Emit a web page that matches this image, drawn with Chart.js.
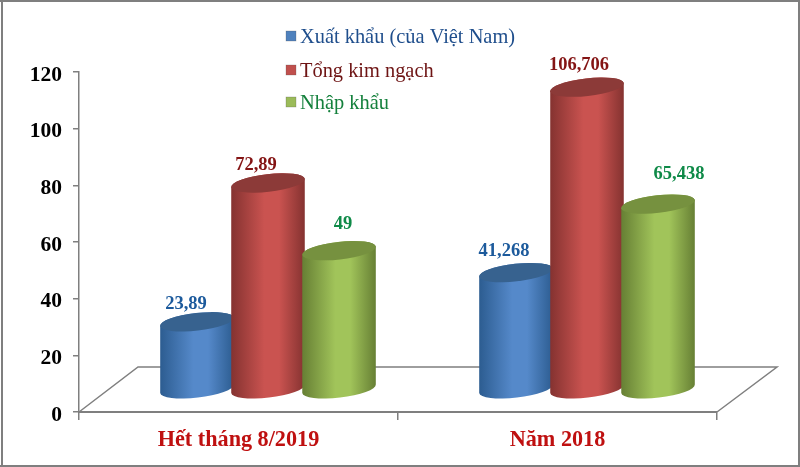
<!DOCTYPE html>
<html>
<head>
<meta charset="utf-8">
<script src="https://cdn.jsdelivr.net/npm/chart.js@4"></script>
<style>
html, body { margin: 0; padding: 0; background: #fff; }
#wrap { width: 800px; height: 467px; }
canvas { filter: blur(0.4px); }
</style>
</head>
<body>
<div id="wrap"><canvas id="myChart" width="800" height="467"></canvas></div>
<script>
var categories = ["Hết tháng 8/2019", "Năm 2018"];
var seriesNames = ["Xuất khẩu (của Việt Nam)", "Tổng kim ngạch", "Nhập khẩu"];
var xuatKhau = [23.89, 41.268];
var tongKimNgach = [72.89, 106.706];
var nhapKhau = [49, 65.438];
var yTicks = [0, 20, 40, 60, 80, 100, 120];
var xuatKhauLabels = ["23,89", "41,268"];
var tongKimNgachLabels = ["72,89", "106,706"];
var nhapKhauLabels = ["49", "65,438"];

// bar colours: edge, middle, top of the cylinder, legend box, text
var looks = [
    { edge: '#2c5c90', mid: '#5589ca', top: '#37628f', box: '#4f81bd', text: '#1f4e8c', value: '#1c5a9c' },
    { edge: '#843230', mid: '#ca5350', top: '#8c3a38', box: '#c0504d', text: '#6e1414', value: '#841414' },
    { edge: '#667f34', mid: '#a1c45a', top: '#76913f', box: '#9bbb59', text: '#14803c', value: '#0f8a48' }
];
var serifFont = '"Liberation Serif", "Times New Roman", serif';
var depthX = 59, depthY = -45;   // how far the floor goes back
var tilt = -6.5 * Math.PI / 180;
var capHeight = 8.8;

// where the value labels sit from the top of each bar
var labelShift = [
    [[-11, -18], [-12, -21]],
    [[-12, -18], [-8, -22]],
    [[4, -26], [21, -30]]
];

function drawCylinder(ctx, bar, look) {
    var cx = bar.x + depthX / 2;
    var topY = bar.y + depthY / 2;
    var botY = bar.base + depthY / 2;
    var rx = bar.width / 2;
    var left = cx - rx;

    var grad = ctx.createLinearGradient(left, 0, left + bar.width, 0);
    grad.addColorStop(0, look.edge);
    grad.addColorStop(0.45, look.mid);
    grad.addColorStop(0.65, look.mid);
    grad.addColorStop(1, look.edge);

    ctx.save();
    ctx.beginPath();
    ctx.ellipse(cx, topY, rx, capHeight, tilt, Math.PI, 0, false);
    ctx.ellipse(cx, botY, rx, capHeight, tilt, 0, Math.PI, false);
    ctx.closePath();
    ctx.fillStyle = grad;
    ctx.fill();

    ctx.beginPath();
    ctx.ellipse(cx, topY, rx, capHeight, tilt, 0, Math.PI * 2);
    ctx.fillStyle = look.top;
    ctx.fill();
    ctx.restore();
}

var cylinderPlugin = {
    id: 'cylinders',
    beforeDatasetsDraw: function (chart) {
        var ctx = chart.ctx, a = chart.chartArea;
        ctx.save();
        ctx.strokeStyle = '#7f7f7f';
        ctx.lineWidth = 1.5;
        ctx.beginPath();
        ctx.moveTo(a.left, a.bottom);
        ctx.lineTo(a.left + depthX, a.bottom + depthY);
        ctx.lineTo(a.right + depthX + 1, a.bottom + depthY);
        ctx.lineTo(a.right, a.bottom);
        ctx.stroke();
        ctx.restore();
    },
    // the plain rectangles are replaced by the cylinders below
    beforeDatasetDraw: function () {
        return false;
    },
    afterDatasetsDraw: function (chart) {
        var ctx = chart.ctx;
        // left to right, each bar overlaps the one before it
        chart.data.labels.forEach(function (label, j) {
            chart.data.datasets.forEach(function (ds, i) {
                drawCylinder(ctx, chart.getDatasetMeta(i).data[j], looks[i]);
            });
        });

        ctx.save();
        ctx.textAlign = 'center';
        ctx.textBaseline = 'middle';
        ctx.font = 'bold 18.5px ' + serifFont;
        chart.data.datasets.forEach(function (ds, i) {
            ctx.fillStyle = looks[i].value;
            chart.getDatasetMeta(i).data.forEach(function (bar, j) {
                var s = labelShift[i][j];
                ctx.fillText(ds.valueLabels[j], bar.x + depthX / 2 + s[0], bar.y + depthY / 2 + s[1]);
            });
        });

        // legend
        ctx.textAlign = 'left';
        ctx.font = '20.4px ' + serifFont;
        var rowY = [36, 70, 102];
        seriesNames.forEach(function (name, i) {
            ctx.fillStyle = looks[i].box;
            ctx.fillRect(286, rowY[i] - 5, 10, 10);
            ctx.strokeStyle = 'rgba(80,80,80,0.5)';
            ctx.lineWidth = 0.5;
            ctx.strokeRect(286, rowY[i] - 5, 10, 10);
            ctx.fillStyle = looks[i].text;
            ctx.fillText(name, 300, rowY[i] + 2);
        });

        // picture frame
        ctx.fillStyle = '#7f7f7f';
        ctx.fillRect(0, 0, chart.width, 2);
        ctx.fillRect(1, 0, 2, chart.height);
        ctx.fillRect(chart.width - 2, 0, 2, chart.height);
        ctx.fillRect(0, chart.height - 2, chart.width, 2);
        ctx.restore();
    }
};

// tick labels sit a little below their tick marks in the reference
function lowerLabels(scale, dy) {
    if (scale.lowered) return;
    scale.lowered = true;
    var drawLabels = scale.drawLabels;
    scale.drawLabels = function (area) {
        scale.ctx.save();
        scale.ctx.translate(0, dy);
        drawLabels.call(scale, area);
        scale.ctx.restore();
    };
}

var ctx = document.getElementById("myChart").getContext('2d');
var myChart = new Chart(ctx, {
    type: 'bar',
    plugins: [cylinderPlugin],
    data: {
        labels: categories,
        datasets: [
            { label: seriesNames[0], data: xuatKhau, valueLabels: xuatKhauLabels, backgroundColor: looks[0].box },
            { label: seriesNames[1], data: tongKimNgach, valueLabels: tongKimNgachLabels, backgroundColor: looks[1].box },
            { label: seriesNames[2], data: nhapKhau, valueLabels: nhapKhauLabels, backgroundColor: looks[2].box }
        ]
    },
    options: {
        responsive: false,
        animation: false,
        layout: { padding: { left: 0, top: 72, right: 83, bottom: 0 } },
        datasets: { bar: { categoryPercentage: 0.668, barPercentage: 1.042 } },
        plugins: { legend: { display: false }, tooltip: { enabled: false } },
        scales: {
            x: {
                afterFit: function (scale) { scale.height = 55; },
                border: { color: '#7f7f7f', width: 2 },
                grid: { drawOnChartArea: false, color: '#7f7f7f', tickLength: 8, lineWidth: 1.5 },
                ticks: { color: '#bf1010', padding: 7, maxRotation: 0, font: { family: serifFont, size: 22.2, weight: 'bold' } }
            },
            y: {
                min: yTicks[0],
                max: yTicks[yTicks.length - 1],
                afterFit: function (scale) {
                    scale.width = 79;
                    lowerLabels(scale, 3);
                },
                afterBuildTicks: function (scale) {
                    scale.ticks = yTicks.map(function (v) { return { value: v }; });
                },
                border: { color: '#7f7f7f', width: 1.5 },
                grid: { drawOnChartArea: false, color: '#7f7f7f', tickLength: 6, lineWidth: 1.5 },
                ticks: { color: '#000', padding: 11, font: { family: serifFont, size: 21.5, weight: 'bold' } }
            }
        }
    }
});
</script>
</body>
</html>
